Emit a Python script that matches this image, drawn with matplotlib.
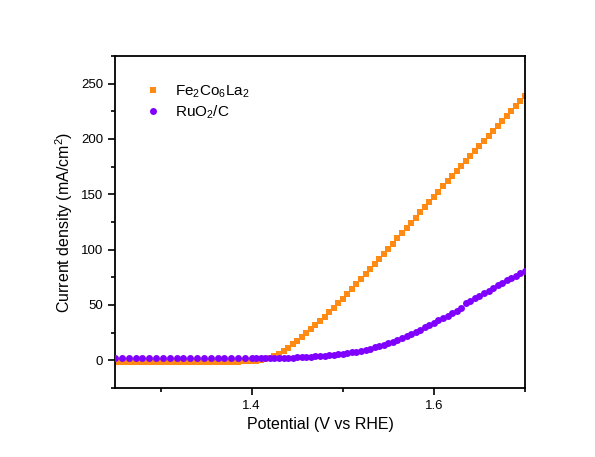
import numpy as np
import matplotlib
matplotlib.use("Agg")
import matplotlib.pyplot as plt
from matplotlib.ticker import MultipleLocator

plt.rcParams['font.family'] = ['Liberation Sans', 'DejaVu Sans']
plt.rcParams['mathtext.fontset'] = 'custom'
plt.rcParams['mathtext.rm'] = 'Liberation Sans'

# Fe2Co6La2 (orange squares), 5 mV steps
fe_v = [1.250, 1.255, 1.260, 1.265, 1.270, 1.275, 1.280, 1.285, 1.290, 1.295,
        1.300, 1.305, 1.310, 1.315, 1.320, 1.325, 1.330, 1.335, 1.340, 1.345,
        1.350, 1.355, 1.360, 1.365, 1.370, 1.375, 1.380, 1.385, 1.390, 1.395,
        1.400, 1.405, 1.410, 1.415, 1.420, 1.425, 1.430, 1.435, 1.440, 1.445,
        1.450, 1.455, 1.460, 1.465, 1.470, 1.475, 1.480, 1.485, 1.490, 1.495,
        1.500, 1.505, 1.510, 1.515, 1.520, 1.525, 1.530, 1.535, 1.540, 1.545,
        1.550, 1.555, 1.560, 1.565, 1.570, 1.575, 1.580, 1.585, 1.590, 1.595,
        1.600, 1.605, 1.610, 1.615, 1.620, 1.625, 1.630, 1.635, 1.640, 1.645,
        1.650, 1.655, 1.660, 1.665, 1.670, 1.675, 1.680, 1.685, 1.690, 1.695,
        1.700]
fe_j = [-1.2, -1.2, -1.2, -1.2, -1.2, -1.2, -1.2, -1.2, -1.2, -1.2,
        -1.2, -1.2, -1.2, -1.2, -1.2, -1.2, -1.2, -1.2, -1.2, -1.2,
        -1.2, -1.2, -1.2, -1.2, -1.2, -1.2, -1.2, -1.1, -1.0, -0.9,
        -0.7, -0.3, 0.3, 1.0, 2.2, 3.8, 6.0, 8.5, 11.5, 14.5,
        17.8, 21.2, 24.6, 28.0, 31.6, 35.4, 39.3, 43.3, 47.4, 51.5,
        55.7, 60.0, 64.4, 68.8, 73.3, 77.8, 82.3, 86.9, 91.5, 96.1,
        100.7, 105.4, 110.1, 114.8, 119.5, 124.2, 128.9, 133.6, 138.3, 143.0,
        147.7, 152.4, 157.1, 161.8, 166.5, 171.1, 175.7, 180.3, 184.9, 189.4,
        193.9, 198.4, 202.9, 207.4, 211.9, 216.4, 220.9, 225.4, 229.8, 234.2,
        238.6]

# RuO2/C (purple circles)
ru_v = [1.2500, 1.2575, 1.2650, 1.2725, 1.2800, 1.2875, 1.2950, 1.3025, 1.3100,
        1.3175, 1.3250, 1.3325, 1.3400, 1.3475, 1.3550, 1.3625, 1.3700, 1.3775,
        1.3850, 1.3925,
        1.400, 1.405, 1.410, 1.415, 1.420, 1.425, 1.430, 1.435, 1.440, 1.445,
        1.450, 1.455, 1.460, 1.465, 1.470, 1.475, 1.480, 1.485, 1.490, 1.495,
        1.500, 1.505, 1.510, 1.515, 1.520, 1.525, 1.530, 1.535, 1.540, 1.545,
        1.550, 1.555, 1.560, 1.565, 1.570, 1.575, 1.580, 1.585, 1.590, 1.595,
        1.600, 1.605, 1.610, 1.615, 1.620, 1.625, 1.630, 1.635, 1.640, 1.645,
        1.650, 1.655, 1.660, 1.665, 1.670, 1.675, 1.680, 1.685, 1.690, 1.695,
        1.700]
ru_j = [2.2, 2.2, 2.2, 2.2, 2.2, 2.2, 2.2, 2.2, 2.2,
        2.2, 2.2, 2.2, 2.2, 2.2, 2.2, 2.2, 2.2, 2.2,
        2.2, 2.2,
        2.2, 2.2, 2.2, 2.2, 2.2, 2.2, 2.3, 2.3, 2.4, 2.5,
        2.6, 2.8, 3.0, 3.2, 3.5, 3.8, 4.2, 4.6, 5.0, 5.5,
        6.0, 6.6, 7.2, 7.9, 8.6, 9.5, 10.5, 11.6, 12.8, 14.1,
        15.5, 17.0, 18.6, 20.3, 22.0, 23.8, 25.7, 27.7, 29.7, 31.8,
        33.9, 36.0, 38.2, 40.4, 42.6, 44.8, 47.2, 51.5, 53.8, 56.0,
        58.3, 60.6, 63.0, 65.4, 67.8, 70.1, 72.3, 74.5, 76.6, 78.7,
        80.8]

fig = plt.figure(figsize=(5.95, 4.57), dpi=100)
ax = fig.add_axes([0.1933, 0.151, 0.6891, 0.7265])

ax.plot(fe_v, fe_j, 's', color='#ff8a14', markersize=3.8, markeredgewidth=0,
        label='Fe$_2$Co$_6$La$_2$', zorder=2)
ax.plot(ru_v, ru_j, 'o', color='#8000ff', markersize=5.0, markeredgewidth=0,
        label='RuO$_2$/C', zorder=3)

ax.set_xlim(1.25, 1.70)
ax.set_ylim(-25, 275)
ax.xaxis.set_major_locator(MultipleLocator(0.2))
ax.xaxis.set_minor_locator(MultipleLocator(0.1))
ax.yaxis.set_major_locator(MultipleLocator(50))
ax.yaxis.set_minor_locator(MultipleLocator(25))
ax.tick_params(which='both', direction='out', width=1.2, labelsize=9.5,
               top=False, right=False)
ax.tick_params(which='major', length=5)
ax.tick_params(which='minor', length=3)
for s in ax.spines.values():
    s.set_linewidth(1.3)

ax.set_xlabel('Potential (V vs RHE)', fontsize=11.5, labelpad=4)
ax.set_ylabel('Current density (mA/cm$^2$)', fontsize=11.5, labelpad=4)

ax.legend(loc='upper left', bbox_to_anchor=(0.03, 0.96), frameon=False,
          fontsize=11, handletextpad=0.7, labelspacing=0.25, markerscale=1.0,
          handlelength=1.5)

fig.savefig('out.png', dpi=100, facecolor='white')
